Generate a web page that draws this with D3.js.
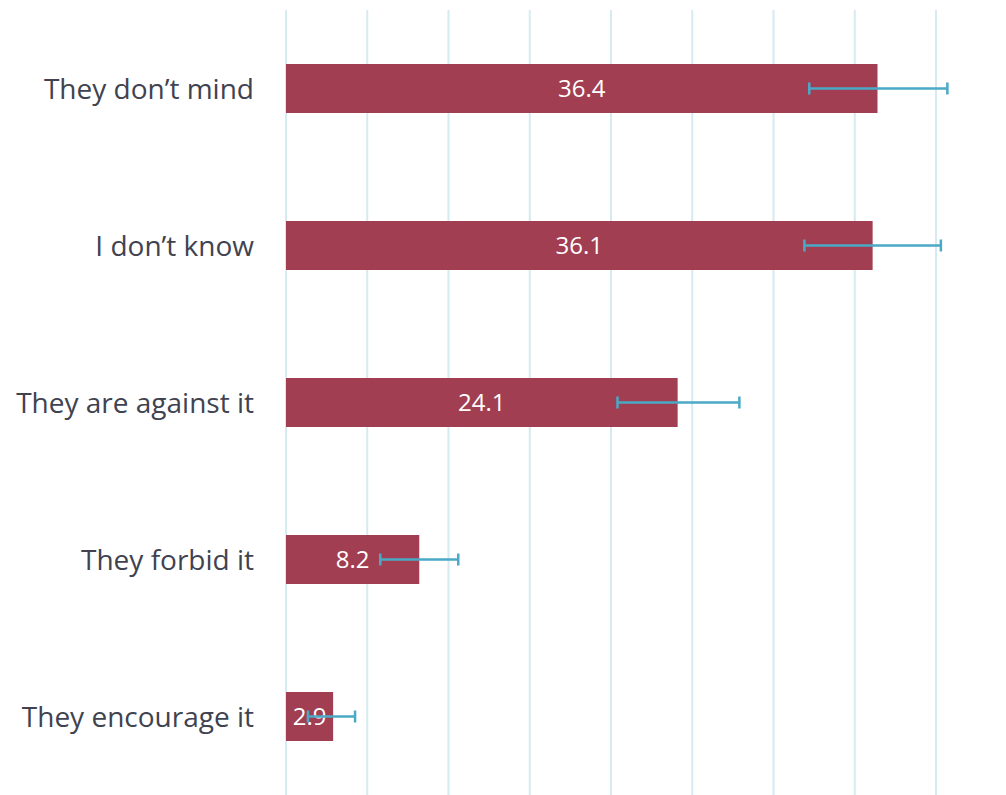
<!DOCTYPE html>
<html>
<head>
<meta charset="utf-8">
<script src="https://cdn.jsdelivr.net/npm/d3@7"></script>
<style>
  body { margin: 0; background: #fff; }
  svg { display: block; }
</style>
</head>
<body>
<svg id="chart"></svg>
<script>
// chart values
const categories = ["They don’t mind", "I don’t know", "They are against it", "They forbid it", "They encourage it"];
const values = [36.4, 36.1, 24.1, 8.2, 2.9];
const errLow = [32.2, 31.9, 20.4, 5.8, 1.35];
const errHigh = [40.7, 40.3, 27.9, 10.6, 4.25];
const gridTicks = [0, 5, 10, 15, 20, 25, 30, 35, 40];

const width = 1006, height = 795;
const svg = d3.select("#chart").attr("width", width).attr("height", height);

const x = d3.scaleLinear().domain([0, 40]).range([286, 936]);
const y = d3.scaleBand()
    .domain(categories)
    .range([10, 795])
    .paddingInner(0.688)
    .paddingOuter(0.344);

// vertical gridlines
svg.append("g").selectAll("line")
    .data(gridTicks)
    .enter().append("line")
    .attr("x1", d => x(d)).attr("x2", d => x(d))
    .attr("y1", 10).attr("y2", height)
    .attr("stroke", "#d6eaf1")
    .attr("stroke-width", 2);

const rows = categories.map((c, i) => ({ cat: c, v: values[i], lo: errLow[i], hi: errHigh[i] }));

// bars
svg.append("g").selectAll("rect")
    .data(rows)
    .enter().append("rect")
    .attr("x", x(0))
    .attr("y", d => y(d.cat))
    .attr("width", d => x(d.v) - x(0))
    .attr("height", y.bandwidth())
    .attr("fill", "#a23e51");

// value labels
svg.append("g").selectAll("text")
    .data(rows)
    .enter().append("text")
    .attr("x", d => (x(0) + x(d.v)) / 2)
    .attr("y", d => y(d.cat) + y.bandwidth() / 2)
    .attr("dy", "0.36em")
    .attr("text-anchor", "middle")
    .attr("fill", "#fff")
    .style("font-family", "'Open Sans', sans-serif")
    .style("font-size", "24px")
    .text(d => d.v.toFixed(1));

// error bars
const eb = svg.append("g").attr("stroke", "#4aa9c6").attr("stroke-width", 2.5);
rows.forEach(d => {
    const cy = y(d.cat) + y.bandwidth() / 2;
    eb.append("line").attr("x1", x(d.lo)).attr("x2", x(d.hi)).attr("y1", cy).attr("y2", cy);
    eb.append("line").attr("x1", x(d.lo)).attr("x2", x(d.lo)).attr("y1", cy - 6).attr("y2", cy + 6);
    eb.append("line").attr("x1", x(d.hi)).attr("x2", x(d.hi)).attr("y1", cy - 6).attr("y2", cy + 6);
});

// category labels
svg.append("g").selectAll("text")
    .data(categories)
    .enter().append("text")
    .attr("x", 254)
    .attr("y", d => y(d) + y.bandwidth() / 2)
    .attr("dy", "0.36em")
    .attr("text-anchor", "end")
    .attr("fill", "#40434f")
    .style("font-family", "'Open Sans', sans-serif")
    .style("font-size", "28px")
    .text(d => d);
</script>
</body>
</html>
